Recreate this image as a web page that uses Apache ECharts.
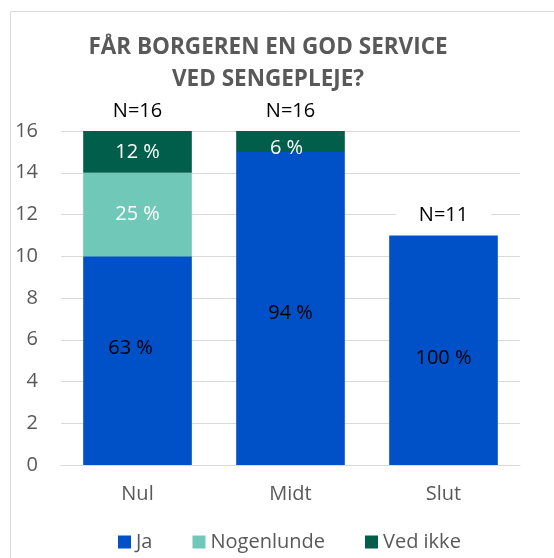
<!DOCTYPE html>
<html><head><meta charset="utf-8">
<script src="https://cdn.jsdelivr.net/npm/echarts@6/dist/echarts.min.js"></script>
<style>html,body{margin:0;padding:0;background:#fff}#c{width:554px;height:558px}</style>
</head><body><div id="c"></div>
<script>
const categories = ['Nul', 'Midt', 'Slut'];
const ja = [10, 15, 11];
const nogenlunde = [4, 0, 0];
const vedIkke = [2, 1, 0];
const jaLabels = ['63 %', '94 %', '100 %'];
const nogenlundeLabels = ['25 %', '', ''];
const vedIkkeLabels = ['12 %', '6 %', ''];
const nLabels = ['N=16', 'N=16', 'N=11'];
const yTicks = [0, 2, 4, 6, 8, 10, 12, 14, 16];

const FONT = 'Open Sans';
const FS = 20;
const chart = echarts.init(document.getElementById('c'), null, {renderer: 'canvas'});
function lab(arr, color) {
  return {show: true, position: 'inside', color: color, fontSize: FS, fontFamily: FONT,
    formatter: p => arr[p.dataIndex]};
}
const jaOffsets = [[-7, -12], [0, 5], [0, 8]];
const vedOffsets = [[0, 0], [-4, 7], [0, 0]];
chart.setOption({
  animation: false,
  graphic: [{type: 'rect', shape: {x: 10.5, y: 11.5, width: 700, height: 700},
    style: {fill: 'none', stroke: '#D9D9D9', lineWidth: 1}, z: -10}],
  title: {text: 'FÅR BORGEREN EN GOD SERVICE\nVED SENGEPLEJE?', left: 263, top: 27, textAlign: 'center',
    textStyle: {color: '#595959', fontSize: 22.5, fontWeight: 'bold', fontFamily: FONT, lineHeight: 32}},
  grid: {left: 61, right: 34, top: 131, bottom: 93},
  legend: {top: 527, left: 113, itemWidth: 13, itemHeight: 13, itemGap: 40, icon: 'rect',
    data: ['Ja', 'Nogenlunde', 'Ved ikke'],
    textStyle: {color: '#595959', fontSize: FS, fontFamily: FONT}},
  xAxis: {type: 'category', data: categories,
    axisLine: {lineStyle: {color: '#D9D9D9'}}, axisTick: {show: false},
    axisLabel: {color: '#595959', fontSize: FS, fontFamily: FONT, margin: 19}},
  yAxis: {type: 'value', min: yTicks[0], max: yTicks[yTicks.length - 1], interval: 2,
    axisLine: {show: false}, axisTick: {show: false},
    splitLine: {lineStyle: {color: '#D9D9D9'}},
    axisLabel: {color: '#595959', fontSize: FS, fontFamily: FONT, margin: 23}},
  series: [
    {name: 'Ja', type: 'bar', stack: 's', barCategoryGap: '29%',
      data: ja.map((v, i) => ({value: v, label: {offset: jaOffsets[i]}})),
      itemStyle: {color: '#0050C8'}, label: lab(jaLabels, '#000')},
    {name: 'Nogenlunde', type: 'bar', stack: 's', data: nogenlunde,
      itemStyle: {color: '#70C8B8'}, label: lab(nogenlundeLabels, '#fff')},
    {name: 'Ved ikke', type: 'bar', stack: 's',
      data: vedIkke.map((v, i) => ({value: v, label: {offset: vedOffsets[i]}})),
      itemStyle: {color: '#005E4B'}, label: lab(vedIkkeLabels, '#fff')},
    {name: 'N', type: 'bar', stack: 's', data: [0, 0, 0],
      itemStyle: {color: 'transparent'}, z: 5,
      label: {show: true, position: 'top', distance: 9, color: '#000', fontSize: FS, fontFamily: FONT,
        backgroundColor: '#fff', padding: [1, 23],
        formatter: p => nLabels[p.dataIndex]}}
  ]
});
</script></body></html>
